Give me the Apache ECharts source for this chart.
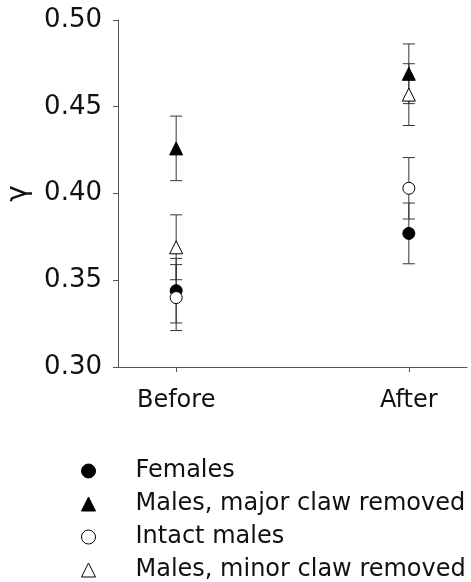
<!DOCTYPE html>
<html>
<head>
<meta charset="utf-8">
<script src="https://cdn.jsdelivr.net/npm/echarts@6/dist/echarts.min.js"></script>
<style>html,body{margin:0;padding:0;background:#fff}#c{width:471px;height:582px}</style>
</head>
<body>
<div id="c"></div>
<script>
var categories = ['Before', 'After'];
var yTicks = [0.30, 0.35, 0.40, 0.45, 0.50];
var seriesNames = ['Females', 'Males, major claw removed', 'Intact males', 'Males, minor claw removed'];
var femalesMean = [0.344, 0.377];
var femalesErr = [0.0186, 0.0175];
var majorMean = [0.426, 0.469];
var majorErr = [0.0186, 0.0172];
var intactMean = [0.340, 0.403];
var intactErr = [0.0190, 0.0177];
var minorMean = [0.369, 0.457];
var minorErr = [0.0187, 0.0178];

var FONT = 'DejaVu Sans';
var chart = echarts.init(document.getElementById('c'), null, {renderer: 'canvas'});

var groups = [
  {name: seriesNames[0], mean: femalesMean, err: femalesErr, symbol: 'circle', size: 12, fill: '#000'},
  {name: seriesNames[1], mean: majorMean, err: majorErr, symbol: 'triangle', size: 13, fill: '#000'},
  {name: seriesNames[2], mean: intactMean, err: intactErr, symbol: 'circle', size: 12, fill: '#fff'},
  {name: seriesNames[3], mean: minorMean, err: minorErr, symbol: 'triangle', size: 13, fill: '#fff'}
];

var series = [];
groups.forEach(function (g) {
  series.push({
    type: 'custom',
    name: g.name + ' err',
    z: 1,
    silent: true,
    data: g.mean.map(function (m, i) { return [i, m, g.err[i]]; }),
    encode: {x: 0, y: 1},
    renderItem: function (params, api) {
      var x = api.value(0), m = api.value(1), e = api.value(2);
      var top = api.coord([x, m + e]);
      var bot = api.coord([x, m - e]);
      var hw = 6;
      var st = {stroke: '#333', lineWidth: 1};
      return {type: 'group', children: [
        {type: 'line', shape: {x1: top[0], y1: top[1], x2: bot[0], y2: bot[1]}, style: st},
        {type: 'line', shape: {x1: top[0] - hw, y1: top[1], x2: top[0] + hw, y2: top[1]}, style: st},
        {type: 'line', shape: {x1: bot[0] - hw, y1: bot[1], x2: bot[0] + hw, y2: bot[1]}, style: st}
      ]};
    }
  });
});
groups.forEach(function (g, k) {
  series.push({
    type: 'scatter',
    name: g.name,
    z: 5 + k,
    symbol: g.symbol,
    symbolSize: g.size,
    itemStyle: {color: g.fill, borderColor: '#000', borderWidth: 1, opacity: 1},
    data: g.mean.map(function (m, i) { return [i, m]; })
  });
});

chart.setOption({
  animation: false,
  backgroundColor: '#fff',
  grid: {left: 118, right: 4, top: 20, bottom: 215, containLabel: false, outerBoundsMode: 'none'},
  xAxis: {
    type: 'value', min: -0.25, max: 1.25,
    splitLine: {show: false},
    axisLine: {show: true, onZero: false, lineStyle: {color: '#555', width: 1}},
    axisTick: {show: true, customValues: [0, 1], length: 5, lineStyle: {color: '#555'}},
    axisLabel: {customValues: [0, 1], margin: 22, fontFamily: FONT, fontSize: 24, color: '#111',
      formatter: function (v) { return categories[Math.round(v)]; }}
  },
  yAxis: {
    type: 'value', min: 0.30, max: 0.50, interval: 0.05,
    name: 'γ', nameLocation: 'middle', nameGap: 85,
    nameTextStyle: {fontFamily: FONT, fontSize: 28, color: '#111'},
    splitLine: {show: false},
    axisLine: {show: true, onZero: false, lineStyle: {color: '#555', width: 1}},
    axisTick: {show: true, length: 5, lineStyle: {color: '#555'}},
    axisLabel: {margin: 16, fontFamily: FONT, fontSize: 26, color: '#111',
      formatter: function (v) { return v.toFixed(2); }}
  },
  legend: {
    orient: 'vertical', left: 81, top: 459, height: 123, padding: 0,
    itemWidth: 14, itemHeight: 14, itemGap: 9,
    textStyle: {fontFamily: FONT, fontSize: 24, color: '#111', padding: [0, 0, 0, 35]},
    data: groups.map(function (g) {
      return {name: g.name, icon: g.symbol,
        itemStyle: {color: g.fill, borderColor: '#000', borderWidth: 1}};
    })
  },
  series: series
});
</script>
</body>
</html>
